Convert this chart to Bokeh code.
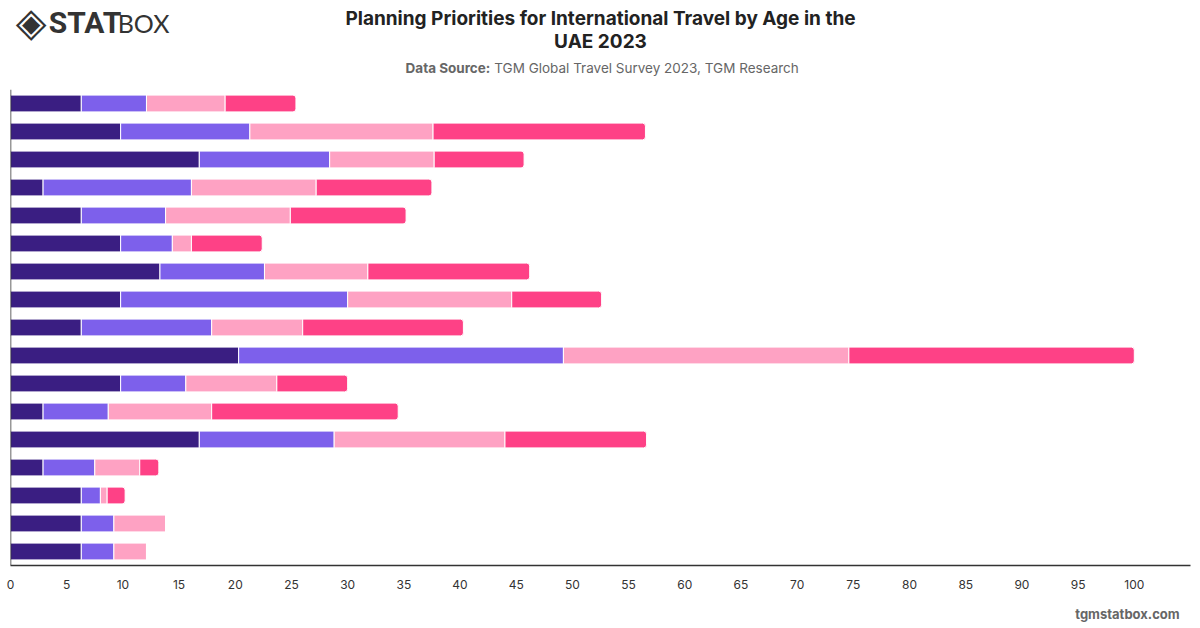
from bokeh.plotting import figure
from bokeh.layouts import column
from bokeh.models import ColumnDataSource, FactorRange, Range1d, Label, Span, FixedTicker
from bokeh.embed import file_html
from bokeh.resources import INLINE

# ---- data (top to bottom) ----
categories = ["Item %d" % i for i in range(1, 18)]
series_names = ["18-24", "25-34", "35-44", "45+"]
s1 = [6.3, 9.8, 16.8, 2.9, 6.3, 9.8, 13.3, 9.8, 6.3, 20.3, 9.8, 2.9, 16.8, 2.9, 6.3, 6.3, 6.3]
s2 = [5.8, 11.5, 11.6, 13.2, 7.5, 4.6, 9.3, 20.2, 11.6, 28.9, 5.8, 5.8, 12.0, 4.6, 1.7, 2.9, 2.9]
s3 = [7.0, 16.3, 9.3, 11.1, 11.1, 1.7, 9.2, 14.6, 8.1, 25.4, 8.1, 9.2, 15.2, 4.0, 0.6, 4.6, 2.9]
s4 = [6.3, 18.9, 8.0, 10.3, 10.3, 6.3, 14.4, 8.0, 14.3, 25.4, 6.3, 16.6, 12.6, 1.7, 1.6, 0.0, 0.0]
x_ticks = list(range(0, 101, 5))
colors = ["#3a1e82", "#7d60eb", "#fea2c3", "#fe4186"]

source = ColumnDataSource(dict(cat=categories, **{series_names[0]: s1, series_names[1]: s2,
                                                   series_names[2]: s3, series_names[3]: s4}))

HEADER_H = 89
FOOTER_H = 28
MAIN_H = 628 - HEADER_H - FOOTER_H


def blank(h):
    f = figure(width=1200, height=h, output_backend="svg", toolbar_location=None,
               x_range=Range1d(0, 1200), y_range=Range1d(h, 0),
               min_border_left=0, min_border_right=0, min_border_top=0, min_border_bottom=0)
    f.axis.visible = False
    f.grid.visible = False
    f.outline_line_color = None
    f.background_fill_color = "white"
    f.border_fill_color = "white"
    return f


def lab(f, text, x, y, size, color, bold=False, font="Inter", align="left", baseline="middle"):
    f.add_layout(Label(x=x, y=y, text=text, text_font=font, text_font_size=size,
                       text_color=color, text_font_style="bold" if bold else "normal",
                       text_align=align, text_baseline=baseline))


# ---- header ----
header = blank(HEADER_H)
lab(header, "Planning Priorities for International Travel by Age in the", 600, 18, "19px", "#222222", True, align="center")
lab(header, "UAE 2023", 600, 41, "19px", "#222222", True, align="center")
lab(header, "Data Source:", 488, 67, "13.5px", "#666666", True, align="right")
lab(header, "TGM Global Travel Survey 2023, TGM Research", 492, 67, "13.5px", "#666666", False, align="left")
lab(header, "\u25c8", 21, 21, "40px", "#333333", False, font="DejaVu Sans", align="center")
lab(header, "STAT", 39, 22, "30px", "#333333", True, font="Roboto")
lab(header, "BOX", 109, 22, "25px", "#333333", False, font="Lato")

# ---- main chart ----
p = figure(width=1200, height=MAIN_H, output_backend="svg", toolbar_location=None,
           y_range=FactorRange(factors=list(reversed(categories))),
           x_range=Range1d(0, 105),
           min_border_left=10, min_border_right=10, min_border_top=0,
           min_border_bottom=MAIN_H - (565 - HEADER_H))

renderers = p.hbar_stack(series_names, y="cat", height=0.6, color=colors, source=source,
                         line_color="white", line_width=1)
try:
    renderers[-1].glyph.border_radius = (0, 3, 3, 0)
except Exception:
    pass

p.yaxis.visible = False
p.xgrid.grid_line_color = None
p.ygrid.grid_line_color = None
p.outline_line_color = None
p.background_fill_color = "white"
p.border_fill_color = "white"

xa = p.xaxis[0]
xa.ticker = FixedTicker(ticks=x_ticks)
xa.axis_line_color = "#333333"
xa.axis_line_width = 1.5
xa.major_tick_line_color = None
xa.minor_tick_line_color = None
xa.major_tick_out = 0
xa.major_label_standoff = 14
xa.major_label_text_font = "Inter"
xa.major_label_text_font_size = "12px"
xa.major_label_text_color = "#333333"

p.add_layout(Span(location=0, dimension="height", line_color="#333333", line_width=1.5))

# ---- footer ----
footer = blank(FOOTER_H)
lab(footer, "tgmstatbox.com", 1189, 613 - (628 - FOOTER_H), "13px", "#666666", True, align="right")

layout = column(header, p, footer, spacing=0)
open("out.html", "w").write(file_html(layout, INLINE))
